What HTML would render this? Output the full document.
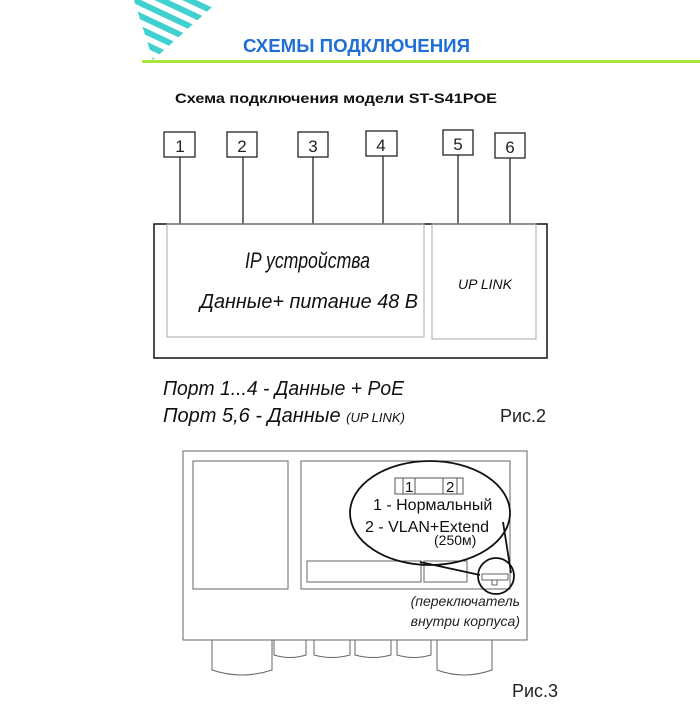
<!DOCTYPE html>
<html><head><meta charset="utf-8"><style>
body{margin:0;background:#fff;width:700px;height:700px;overflow:hidden;font-family:"Liberation Sans",sans-serif}
</style></head><body>
<svg width="700" height="700" xmlns="http://www.w3.org/2000/svg" font-family="Liberation Sans, sans-serif">
<defs><clipPath id="tri"><polygon points="134,0 220,0 153,60"/></clipPath></defs>
<g clip-path="url(#tri)" stroke="#3fd0cf" stroke-width="6">
<line x1="100" y1="-42" x2="240" y2="24"/>
<line x1="100" y1="-29" x2="240" y2="37"/>
<line x1="100" y1="-16" x2="240" y2="50"/>
<line x1="100" y1="-3" x2="240" y2="63"/>
<line x1="100" y1="10" x2="240" y2="76"/>
<line x1="100" y1="23" x2="240" y2="89"/>
<line x1="100" y1="36" x2="240" y2="102"/>
<line x1="100" y1="49" x2="240" y2="115"/>
</g>
<text x="243" y="52" font-size="18" font-weight="bold" fill="#1f6fd6" textLength="227" lengthAdjust="spacingAndGlyphs">СХЕМЫ ПОДКЛЮЧЕНИЯ</text>
<line x1="142" y1="61.5" x2="700" y2="61.5" stroke="#a6e636" stroke-width="3"/>
<text x="175" y="103" font-size="13.5" font-weight="bold" fill="#111" textLength="322" lengthAdjust="spacingAndGlyphs">Схема подключения модели ST-S41POE</text>

<g fill="none" stroke="#222" stroke-width="1.3">
<rect x="164" y="132" width="31" height="25"/><rect x="227" y="132" width="30" height="25"/>
<rect x="298" y="132" width="30" height="25"/><rect x="366" y="131" width="31" height="25"/>
<rect x="443" y="130" width="30" height="25"/><rect x="495" y="133" width="30" height="25"/>
<line x1="180" y1="157" x2="180" y2="224"/><line x1="243" y1="157" x2="243" y2="224"/>
<line x1="313" y1="157" x2="313" y2="224"/><line x1="383" y1="156" x2="383" y2="224"/>
<line x1="458" y1="155" x2="458" y2="224"/><line x1="510" y1="158" x2="510" y2="224"/>
<rect x="154" y="224" width="393" height="134" stroke-width="1.6"/>
</g>
<g fill="none" stroke="#aaa" stroke-width="1">
<rect x="167" y="224" width="257" height="113"/><rect x="432" y="224" width="104" height="115"/>
</g>
<g font-size="17" fill="#222" text-anchor="middle">
<text x="180" y="152">1</text><text x="242" y="152">2</text><text x="313" y="152">3</text>
<text x="381" y="151">4</text><text x="458" y="150">5</text><text x="510" y="153">6</text>
</g>
<g font-style="italic" fill="#111">
<text x="245" y="268" font-size="22" textLength="125" lengthAdjust="spacingAndGlyphs">IP устройства</text>
<text x="200" y="308" font-size="20" textLength="218" lengthAdjust="spacingAndGlyphs">Данные+ питание 48 В</text>
<text x="458" y="289" font-size="14" textLength="54" lengthAdjust="spacingAndGlyphs">UP LINK</text>
<text x="163" y="395" font-size="20" textLength="241" lengthAdjust="spacingAndGlyphs">Порт 1...4 - Данные + PoE</text>
<text x="163" y="422" font-size="20">Порт 5,6 - Данные <tspan font-size="13">(UP LINK)</tspan></text>
</g>
<text x="500" y="422" font-size="18" fill="#222">Рис.2</text>

<g fill="none" stroke="#666" stroke-width="1">
<rect x="183" y="451" width="344" height="189"/>
<rect x="193" y="461" width="95" height="128"/>
<rect x="301" y="461" width="209" height="128"/>
<rect x="307" y="561" width="114" height="21"/><rect x="424" y="561" width="43" height="21"/>
<path d="M212,640 V670 Q242,680 272,670 V640"/>
<path d="M274,640 V655 Q290,660 306,655 V640"/>
<path d="M314,640 V655 Q332,660 350,655 V640"/>
<path d="M355,640 V655 Q373,660 391,655 V640"/>
<path d="M397,640 V655 Q414,660 431,655 V640"/>
<path d="M437,640 V670 Q464,680 492,670 V640"/>
<rect x="482" y="574" width="26" height="6"/><rect x="492" y="580" width="5" height="5"/>
</g>
<g fill="none" stroke="#111" stroke-width="1.8">
<ellipse cx="430" cy="513" rx="80" ry="52"/>
<circle cx="496" cy="576" r="18"/>
<line x1="420" y1="562" x2="480" y2="575"/>
<line x1="503" y1="522" x2="511" y2="573"/>
</g>
<g fill="none" stroke="#555" stroke-width="1">
<rect x="395" y="478" width="68" height="16"/>
<rect x="403" y="478" width="12" height="16"/><rect x="443" y="478" width="14" height="16"/>
</g>
<g fill="#111" font-size="15">
<text x="405" y="492">1</text><text x="446" y="492">2</text>
<text x="373" y="510" font-size="16">1 - Нормальный</text>
<text x="365" y="532" font-size="16">2 - VLAN+Extend</text>
<text x="434" y="545" font-size="14">(250м)</text>
</g>
<g fill="#222" font-style="italic" font-size="14" text-anchor="end">
<text x="520" y="606">(переключатель</text>
<text x="520" y="626">внутри корпуса)</text>
</g>
<text x="512" y="697" font-size="18" fill="#222">Рис.3</text>
</svg>
</body></html>
